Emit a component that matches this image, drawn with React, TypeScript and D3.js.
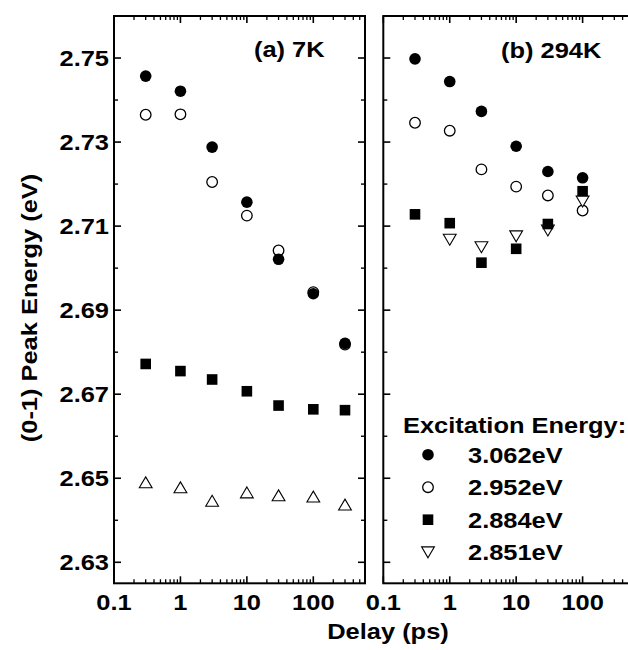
import React from "react";
import * as d3 from "d3";

// ---------- data ----------
const delays7K = [0.3, 1, 3, 10, 30, 100, 300];
const a3062 = [2.7457, 2.7421, 2.7288, 2.7157, 2.7021, 2.6939, 2.6821];
const a2952 = [2.7365, 2.7366, 2.7205, 2.7125, 2.7042, 2.6943, 2.6818];
const a2884 = [2.6772, 2.6755, 2.6735, 2.6707, 2.6673, 2.6664, 2.6662];
const a2851 = [2.649, 2.6478, 2.6446, 2.6466, 2.6459, 2.6456, 2.6437];

const delays294K = [0.3, 1, 3, 10, 30, 100];
const b3062 = [2.7498, 2.7444, 2.7373, 2.729, 2.723, 2.7215];
const b2952 = [2.7346, 2.7327, 2.7235, 2.7194, 2.7173, 2.7137];
const b2884 = [2.7128, 2.7107, 2.7013, 2.7046, 2.7105, 2.7183];
const delays294K_2851 = [1, 3, 10, 30, 100];
const b2851 = [2.7068, 2.705, 2.7076, 2.709, 2.7159];

const yTicks = [2.63, 2.65, 2.67, 2.69, 2.71, 2.73, 2.75];
const yTickLabels = ["2.63", "2.65", "2.67", "2.69", "2.71", "2.73", "2.75"];
const yMinor = [2.64, 2.66, 2.68, 2.7, 2.72, 2.74];
const xTicks = [0.1, 1, 10, 100];
const xTickLabels = ["0.1", "1", "10", "100"];
const legendLabels = ["3.062eV", "2.952eV", "2.884eV", "2.851eV"];
const legendTitle = "Excitation Energy:";
const panelLabels = ["(a) 7K", "(b) 294K"];
const xTitle = "Delay (ps)";
const yTitle = "(0-1) Peak Energy (eV)";

// ---------- layout ----------
const W = 628, H = 650;
const top = 16, bottom = 583.3;
const panelW = 251;
const leftA = 114, leftB = 383.3;
const FONT = "'Liberation Sans', Arial, Helvetica, sans-serif";
const FS = 22.3;
const SX = 1.14;

const y = d3.scaleLinear().domain([2.625, 2.76]).range([bottom, top]);
const xA = d3.scaleLog().domain([0.1, 600]).range([leftA, leftA + panelW]);
const xB = d3.scaleLog().domain([0.1, 600]).range([leftB, leftB + panelW]);

const minorX: number[] = [];
[0.1, 1, 10, 100].forEach((d) => {
  for (let k = 2; k <= 9; k++) if (d * k < 600) minorX.push(d * k);
});

function T({ x, y: yy, anchor = "start", rotate = 0, children }: any) {
  return (
    <g transform={`translate(${x},${yy}) rotate(${rotate}) scale(${SX},1)`}>
      <text textAnchor={anchor} fontSize={FS} fontWeight="bold" fontFamily={FONT} fill="#000">
        {children}
      </text>
    </g>
  );
}

function Marker({ type, cx, cy }: { type: string; cx: number; cy: number }) {
  if (type === "fc") return <circle cx={cx} cy={cy} r={5.8} fill="#000" />;
  if (type === "oc")
    return <circle cx={cx} cy={cy} r={5.3} fill="#fff" stroke="#000" strokeWidth={1.3} />;
  if (type === "sq") return <rect x={cx - 5.3} y={cy - 5.3} width={10.6} height={10.6} fill="#000" />;
  if (type === "tu")
    return (
      <path
        d={`M${cx},${cy - 5.6}L${cx + 6.4},${cy + 5.3}L${cx - 6.4},${cy + 5.3}Z`}
        fill="#fff"
        stroke="#000"
        strokeWidth={1.1}
      />
    );
  return (
    <path
      d={`M${cx},${cy + 5.6}L${cx + 6.4},${cy - 5.3}L${cx - 6.4},${cy - 5.3}Z`}
      fill="#fff"
      stroke="#000"
      strokeWidth={1.1}
    />
  );
}

function Series({ xs, ys, x, type }: any) {
  return (
    <g>
      {xs.map((d: number, i: number) => (
        <Marker key={i} type={type} cx={x(d)} cy={y(ys[i])} />
      ))}
    </g>
  );
}

function Frame({ x, left, labels, rightTicks }: any) {
  const right = left + panelW;
  const majLen = 7, minLen = 4;
  return (
    <g stroke="#000" fill="none">
      {yTicks.map((t) => (
        <g key={"y" + t}>
          <line x1={left} x2={left + majLen} y1={y(t)} y2={y(t)} strokeWidth={1.6} />
          {rightTicks && (
            <line x1={right} x2={right - majLen} y1={y(t)} y2={y(t)} strokeWidth={1.6} />
          )}
        </g>
      ))}
      {yMinor.map((t) => (
        <g key={"ym" + t}>
          <line x1={left} x2={left + minLen} y1={y(t)} y2={y(t)} strokeWidth={1.4} />
          {rightTicks && (
            <line x1={right} x2={right - minLen} y1={y(t)} y2={y(t)} strokeWidth={1.4} />
          )}
        </g>
      ))}
      {xTicks.map((t) => (
        <g key={"x" + t}>
          <line x1={x(t)} x2={x(t)} y1={bottom} y2={bottom - majLen} strokeWidth={1.6} />
          <line x1={x(t)} x2={x(t)} y1={top} y2={top + majLen} strokeWidth={1.6} />
        </g>
      ))}
      {minorX.map((t) => (
        <g key={"xm" + t}>
          <line x1={x(t)} x2={x(t)} y1={bottom} y2={bottom - minLen} strokeWidth={1.3} />
          <line x1={x(t)} x2={x(t)} y1={top} y2={top + minLen} strokeWidth={1.3} />
        </g>
      ))}
      <rect x={left} y={top} width={panelW + (rightTicks ? 0 : 10)} height={bottom - top} strokeWidth={2} />
      {labels &&
        yTicks.map((t, i) => (
          <g key={"yl" + t} stroke="none">
            <T x={left - 5} y={y(t) + 8} anchor="end">
              {yTickLabels[i]}
            </T>
          </g>
        ))}
      {xTicks.map((t, i) => (
        <g key={"xl" + t} stroke="none">
          <T x={x(t)} y={610} anchor="middle">
            {xTickLabels[i]}
          </T>
        </g>
      ))}
    </g>
  );
}

export default function App() {
  const legendTypes = ["fc", "oc", "sq", "td"];
  return (
    <svg
      width={W}
      height={H}
      style={{ position: "absolute", left: 0, top: 0, background: "#fff" }}
    >
      <rect width={W} height={H} fill="#fff" />
      <Frame x={xA} left={leftA} labels={true} rightTicks={true} />
      <Frame x={xB} left={leftB} labels={false} rightTicks={false} />

      {/* panel (a) */}
      <Series xs={delays7K} ys={a2952} x={xA} type="oc" />
      <Series xs={delays7K} ys={a3062} x={xA} type="fc" />
      <Series xs={delays7K} ys={a2851} x={xA} type="tu" />
      <Series xs={delays7K} ys={a2884} x={xA} type="sq" />

      {/* panel (b) */}
      <Series xs={delays294K} ys={b2952} x={xB} type="oc" />
      <Series xs={delays294K} ys={b3062} x={xB} type="fc" />
      <Series xs={delays294K_2851} ys={b2851} x={xB} type="td" />
      <Series xs={delays294K} ys={b2884} x={xB} type="sq" />

      <T x={254} y={57}>{panelLabels[0]}</T>
      <T x={501} y={58}>{panelLabels[1]}</T>

      {/* legend */}
      <T x={403} y={433}>{legendTitle}</T>
      {legendLabels.map((l, i) => {
        const by = 462.7 + i * 32.5;
        return (
          <g key={l}>
            <Marker type={legendTypes[i]} cx={428} cy={by - 8} />
            <T x={468} y={by}>{l}</T>
          </g>
        );
      })}

      {/* axis titles */}
      <T x={388} y={639} anchor="middle">{xTitle}</T>
      <T x={36.5} y={308} anchor="middle" rotate={-90}>{yTitle}</T>
    </svg>
  );
}
